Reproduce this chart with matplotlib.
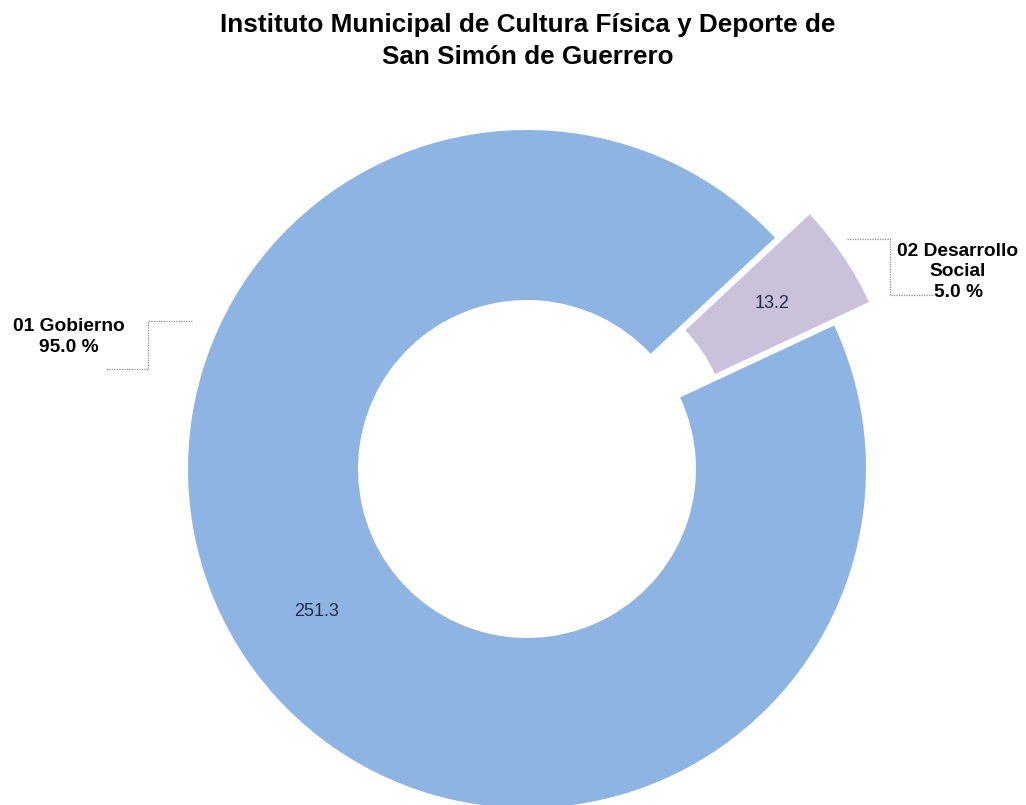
import matplotlib
matplotlib.use('Agg')
import matplotlib.pyplot as plt

# Data
categories = ['01 Gobierno', '02 Desarrollo\nSocial']
values = [251.3, 13.2]
percents = ['95.0 %', '5.0 %']
colors = ['#8EB4E3', '#CCC1DA']
title = 'Instituto Municipal de Cultura Física y Deporte de\nSan Simón de Guerrero'

plt.rcParams['font.family'] = ['Liberation Sans', 'DejaVu Sans']

W, H = 1026, 805
fig = plt.figure(figsize=(W / 100, H / 100), dpi=100)
ax = fig.add_axes([0, 0, 1, 1])

# pixel-like coordinates, y going up
cx, cy = 527, H - 469
R = 339

total = sum(values)
# note: explode is in data units here (not scaled by radius)
wedges, texts, autotexts = ax.pie(
    values,
    radius=R,
    center=(cx, cy),
    startangle=43,
    explode=[0, 42],
    colors=colors,
    wedgeprops=dict(width=170, linewidth=0),
    autopct=lambda p: f'{p * total / 100:.1f}',
    pctdistance=0.75,
    textprops=dict(fontsize=13, color='#1F2D4A'),
)

ax.set_xlim(0, W)
ax.set_ylim(0, H)
ax.set_aspect('equal')
ax.axis('off')

fig.text(528 / W, 1 - 41 / H, title, ha='center', va='center', fontsize=18.8,
         fontweight='bold', linespacing=1.38)

# category labels with stepped dotted leader lines
line_kw = dict(color='#8C8C8C', lw=0.9, ls=(0, (1, 1)))
ax.plot([192, 148, 148, 106], [H - 321, H - 321, H - 369, H - 369], **line_kw)
ax.text(69, H - 337, categories[0] + '\n' + percents[0], ha='center', va='center',
        fontsize=13.8, fontweight='bold', linespacing=1.38)

ax.plot([847, 890, 890, 933], [H - 239, H - 239, H - 295, H - 295], **line_kw)
ax.text(958, H - 272, categories[1] + '\n' + percents[1], ha='center', va='center',
        fontsize=13.8, fontweight='bold', linespacing=1.3)

fig.savefig('out.png', dpi=100, facecolor='white')
